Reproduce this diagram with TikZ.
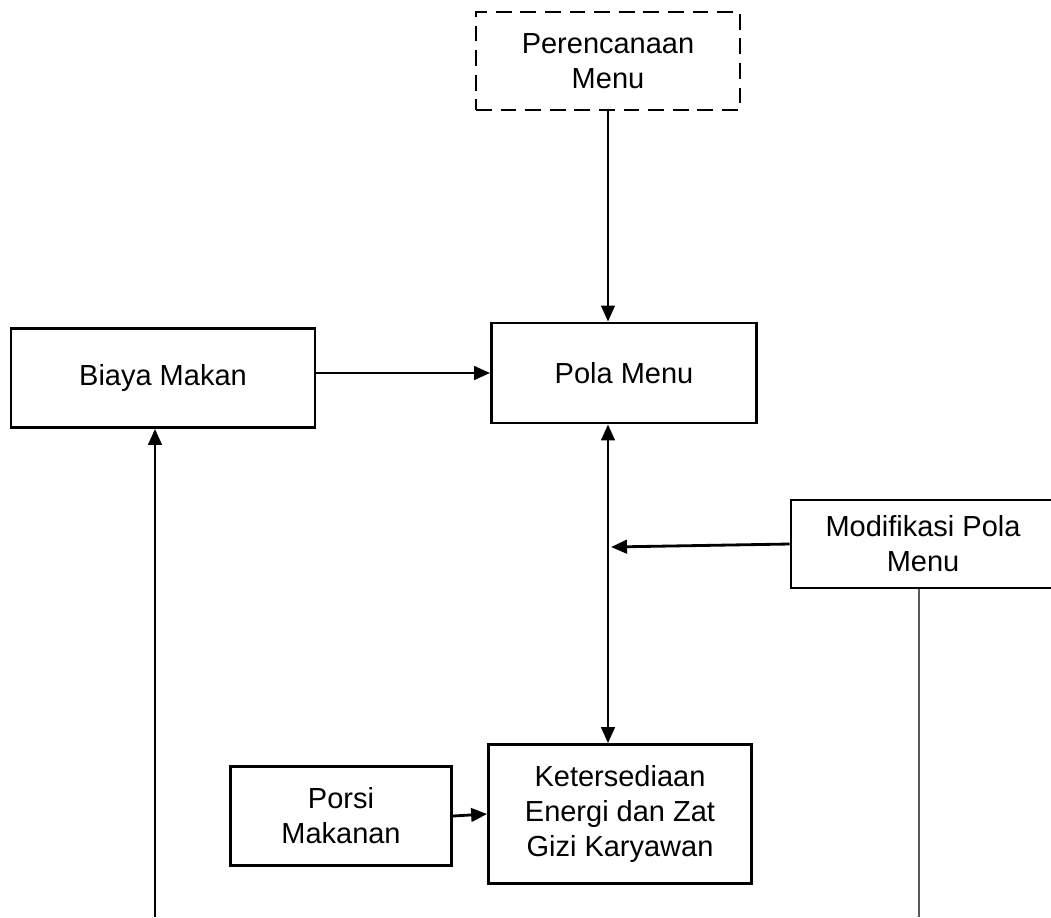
\documentclass[tikz,border=0pt]{standalone}
\usepackage{fontspec}
\setmainfont{Liberation Sans}
\usetikzlibrary{arrows.meta}
\begin{document}
\begin{tikzpicture}[x = 0.02cm, y = -0.02cm,
		kotak/.style = {draw, line width = 1.6pt, align = center, inner sep = 0pt,
			font = \fontsize{16.5}{20}\selectfont},
		panah/.style = {line width = 1.6pt, -{Triangle[length = 0.32cm, width = 0.27cm]}},
		panahdua/.style = {line width = 1.6pt, {Triangle[length = 0.32cm, width = 0.27cm]}-{Triangle[length = 0.32cm, width = 0.27cm]}}]
		\useasboundingbox (0,0) rectangle (1051,917);
		\node [kotak, dash pattern = on 9pt off 5pt, minimum width = 5.28cm, minimum height = 1.96cm] (perencanaan) at (608,61) {Perencanaan\\Menu};
		\node [kotak, minimum width = 5.3cm, minimum height = 2cm] (pola) at (624,373) {Pola Menu};
		\node [kotak, minimum width = 6.08cm, minimum height = 1.98cm] (biaya) at (163,378) {Biaya Makan};
		\node [kotak, minimum width = 5.28cm, minimum height = 1.76cm] (modifikasi) at (923,544) {Modifikasi Pola\\Menu};
		\node [kotak, minimum width = 5.26cm, minimum height = 2.78cm] (ketersediaan) at (620,814) {Ketersediaan\\Energi dan Zat\\Gizi Karyawan};
		\node [kotak, minimum width = 4.42cm, minimum height = 1.98cm] (porsi) at (341,816) {Porsi\\Makanan};
		\coordinate (temu) at (611,547);
		\coordinate (bawahkiri) at (155,917);
		\coordinate (bawahkanan) at (919,917);
		\draw [panah] (perencanaan.south) -- (perencanaan.south |- pola.north);
		\draw [panah] (biaya.east |- pola.west) -- (pola.west);
		\draw [panahdua] (pola.south -| perencanaan) -- (ketersediaan.north -| perencanaan);
		\draw [panah] (modifikasi.west) -- (temu);
		\draw [panah] (bawahkiri) -- (bawahkiri |- biaya.south);
		\draw [gray!70!black, line width = 1pt] (bawahkanan |- modifikasi.south) -- (bawahkanan);
		\draw [panah] (porsi.east) -- (ketersediaan.west);
	\end{tikzpicture}
\end{document}
